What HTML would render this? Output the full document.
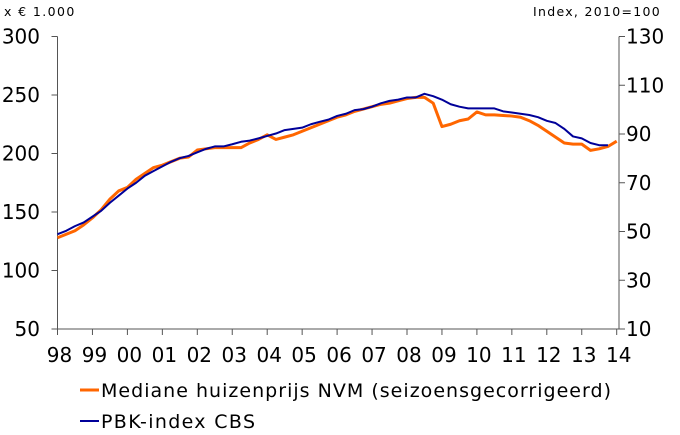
<!DOCTYPE html>
<html><head><meta charset="utf-8"><style>
html,body{margin:0;padding:0;background:#fff;}
svg{display:block;font-family:"DejaVu Sans","Liberation Sans",sans-serif;}
</style></head><body>
<svg id="chart" width="680" height="435" viewBox="0 0 680 435" xmlns="http://www.w3.org/2000/svg">
<text x="4" y="16" font-size="12.5" letter-spacing="1.4" fill="#000">x € 1.000</text>
<text x="533" y="16" font-size="12.5" letter-spacing="1.3" fill="#000">Index, 2010=100</text>
<g id="axes"></g>
<g id="series"></g>
<line x1="80" y1="390" x2="99" y2="390" stroke="#FF6600" stroke-width="3"/>
<text x="101" y="397" font-size="19" textLength="510" lengthAdjust="spacing">Mediane huizenprijs NVM (seizoensgecorrigeerd)</text>
<line x1="80" y1="421" x2="99" y2="421" stroke="#000099" stroke-width="2"/>
<text x="101" y="428" font-size="19" textLength="154" lengthAdjust="spacing">PBK-index CBS</text>
</svg>
<script>
const yearLabels=["98","99","00","01","02","03","04","05","06","07","08","09","10","11","12","13","14"];
const leftTicks=[50,100,150,200,250,300];
const rightTicks=[10,30,50,70,90,110,130];
// quarterly from 1998Q1
const nvmValues=[128,131,134,139,145,152,161,168,171,178,183,188,190,193,196,197,203,204,205,205,205,205,209,212,216,212,214,216,219,222,225,228,231,233,236,238,240,242,243,245,247,248,248,243,223,225,228,229.5,235.5,233,233,232.5,232,231,228,224,219,214,209,208,208,202.7,204,206,210.5];
const pbkValues=[48.9,50.3,52.2,53.7,56.1,58.5,61.8,64.7,67.6,70,72.9,74.8,76.7,78.6,80.1,81,82.5,83.9,84.9,84.9,85.8,86.8,87.3,88.2,89.2,90.2,91.6,92.1,92.6,94,95,95.9,97.4,98.3,99.8,100.2,101.2,102.6,103.6,104.1,105,105,106.5,105.5,104.1,102.2,101.2,100.5,100.5,100.5,100.5,99.3,98.8,98.3,97.8,96.9,95.4,94.5,92.1,89,88.2,86.3,85.4,85.4];
const NS="http://www.w3.org/2000/svg";
const X0=57.5,YW=34.95,TOP=36.5,BOT=329,XR=619;
const xq=i=>X0+YW*i/4;
const yL=v=>BOT-(v-50)/250*(BOT-TOP);
const yR=v=>BOT-(v-10)/120*(BOT-TOP);
function mk(tag,attrs,parent){const e=document.createElementNS(NS,tag);for(const k in attrs)e.setAttribute(k,attrs[k]);parent.appendChild(e);return e;}
const ax=document.getElementById('axes'),se=document.getElementById('series');
let e;
e=mk('line',{x1:X0,y1:TOP,x2:X0,y2:BOT,stroke:'#555','stroke-width':1},ax);


e=mk('line',{x1:XR,y1:TOP,x2:XR,y2:BOT,stroke:'#555','stroke-width':1},ax);


e=mk('line',{x1:X0,y1:BOT,x2:XR,y2:BOT,stroke:'#555','stroke-width':1},ax);


leftTicks.forEach(v=>{const y=yL(v);
mk('line',{x1:X0-6,y1:y,x2:X0,y2:y,stroke:'#555'},ax);
e=mk('text',{x:40,y:y+7,'font-size':20,'text-anchor':'end'},ax);e.textContent=v;

});
rightTicks.forEach(v=>{const y=yR(v);
mk('line',{x1:XR,y1:y,x2:XR+6,y2:y,stroke:'#555'},ax);
e=mk('text',{x:626,y:y+7,'font-size':20},ax);e.textContent=v;

});
yearLabels.forEach((l,i)=>{const x=X0+YW*i;
mk('line',{x1:x,y1:BOT,x2:x,y2:BOT+6,stroke:'#555'},ax);
e=mk('text',{x:x+2,y:362,'font-size':20,'text-anchor':'middle'},ax);e.textContent=l;

});
e=mk('polyline',{points:nvmValues.map((v,i)=>xq(i)+','+yL(v)).join(' '),fill:'none',stroke:'#FF6600','stroke-width':3,'stroke-linejoin':'round'},se);


e=mk('polyline',{points:pbkValues.map((v,i)=>xq(i)+','+yR(v)).join(' '),fill:'none',stroke:'#000099','stroke-width':2,'stroke-linejoin':'round'},se);


</script>
</body></html>
